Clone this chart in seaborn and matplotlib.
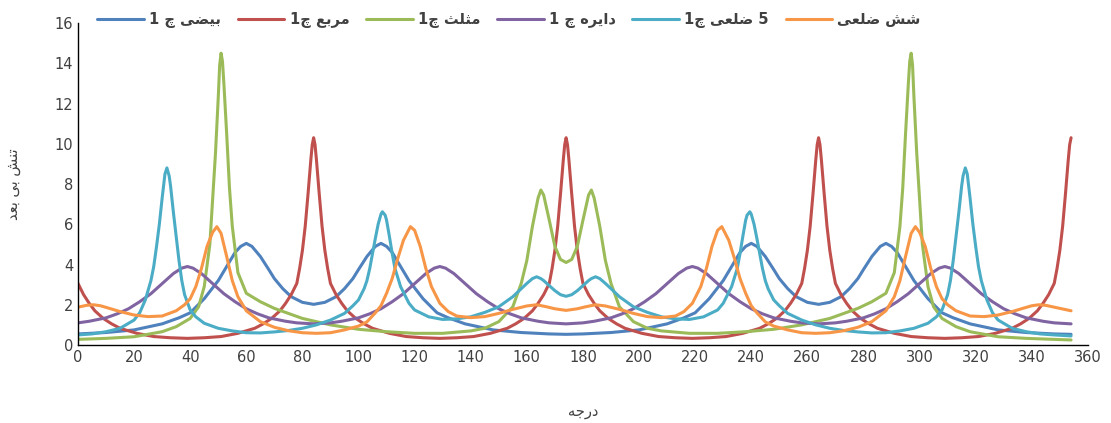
import pandas as pd
import matplotlib
matplotlib.use("Agg")
import matplotlib.pyplot as plt
import seaborn as sns

# Step 1: Data (angle in degrees, dimensionless stress)
ellipse_x = [0, 10, 20, 30, 36, 40, 45, 50, 53, 56, 58, 60, 62, 65, 68, 70, 73, 76, 80, 84,
             88, 92, 95, 98, 100, 103, 106, 108, 110, 112, 115, 118, 123, 128, 132, 138, 148, 158, 168, 174,
             180, 190, 200, 210, 216, 220, 225, 230, 233, 236, 238, 240, 242, 245, 248, 250, 253, 256, 260, 264,
             268, 272, 275, 278, 280, 283, 286, 288, 290, 292, 295, 298, 303, 308, 312, 318, 328, 338, 348, 354]
ellipse_y = [0.55, 0.62, 0.75, 1.05, 1.35, 1.6, 2.3, 3.2, 3.9, 4.6, 4.9, 5.05, 4.9, 4.4, 3.75, 3.3, 2.8, 2.4, 2.12, 2.02,
             2.12, 2.4, 2.8, 3.3, 3.75, 4.4, 4.9, 5.05, 4.9, 4.6, 3.9, 3.2, 2.3, 1.6, 1.35, 1.05, 0.75, 0.62, 0.55, 0.53,
             0.55, 0.62, 0.75, 1.05, 1.35, 1.6, 2.3, 3.2, 3.9, 4.6, 4.9, 5.05, 4.9, 4.4, 3.75, 3.3, 2.8, 2.4, 2.12, 2.02,
             2.12, 2.4, 2.8, 3.3, 3.75, 4.4, 4.9, 5.05, 4.9, 4.6, 3.9, 3.2, 2.3, 1.6, 1.35, 1.05, 0.75, 0.62, 0.55, 0.53]

square_x = [0, 2, 4, 6, 9, 12, 15, 21, 27, 33, 39, 45, 51, 57, 63, 66, 69, 72, 74, 76, 78, 79, 80, 81, 82, 83, 83.5, 84,
            84.5, 85, 86, 87, 88, 89, 90, 92, 94, 96, 99, 102, 105, 111, 117, 123, 129, 135, 141, 147, 153, 156, 159, 162, 164, 166, 168, 169, 170, 171, 172, 173, 173.5, 174,
            174.5, 175, 176, 177, 178, 179, 180, 182, 184, 186, 189, 192, 195, 201, 207, 213, 219, 225, 231, 237, 243, 246, 249, 252, 254, 256, 258, 259, 260, 261, 262, 263, 263.5, 264,
            264.5, 265, 266, 267, 268, 269, 270, 272, 274, 276, 279, 282, 285, 291, 297, 303, 309, 315, 321, 327, 333, 336, 339, 342, 344, 346, 348, 349, 350, 351, 352, 353, 353.5, 354]
square_y = [3.06, 2.5, 2.07, 1.7, 1.32, 1.05, 0.83, 0.58, 0.42, 0.36, 0.33, 0.36, 0.42, 0.58, 0.83, 1.05, 1.32, 1.7, 2.07, 2.5, 3.06, 3.8, 4.7, 5.9, 7.5, 9.2, 9.95, 10.3,
            9.95, 9.2, 7.5, 5.9, 4.7, 3.8, 3.06, 2.5, 2.07, 1.7, 1.32, 1.05, 0.83, 0.58, 0.42, 0.36, 0.33, 0.36, 0.42, 0.58, 0.83, 1.05, 1.32, 1.7, 2.07, 2.5, 3.06, 3.8, 4.7, 5.9, 7.5, 9.2, 9.95, 10.3,
            9.95, 9.2, 7.5, 5.9, 4.7, 3.8, 3.06, 2.5, 2.07, 1.7, 1.32, 1.05, 0.83, 0.58, 0.42, 0.36, 0.33, 0.36, 0.42, 0.58, 0.83, 1.05, 1.32, 1.7, 2.07, 2.5, 3.06, 3.8, 4.7, 5.9, 7.5, 9.2, 9.95, 10.3,
            9.95, 9.2, 7.5, 5.9, 4.7, 3.8, 3.06, 2.5, 2.07, 1.7, 1.32, 1.05, 0.83, 0.58, 0.42, 0.36, 0.33, 0.36, 0.42, 0.58, 0.83, 1.05, 1.32, 1.7, 2.07, 2.5, 3.06, 3.8, 4.7, 5.9, 7.5, 9.2, 9.95, 10.3]

triangle_x = [0, 10, 20, 30, 35, 40, 43, 45, 47, 49, 50, 50.5, 51, 51.5, 52, 53, 54, 55, 57, 60, 65, 70, 80, 90, 100, 110, 120, 130,
              140, 145, 150, 155, 158, 160, 162, 164, 165, 166, 168, 170, 172, 174,
              176, 178, 180, 182, 183, 184, 186, 188, 190, 193, 198, 203, 208, 218, 228, 238, 248, 258, 268, 278,
              283, 288, 291, 293, 294, 295, 296, 296.5, 297, 297.5, 298, 299, 301, 303, 305, 308, 313, 318, 328, 338, 348, 354]
triangle_y = [0.28, 0.33, 0.41, 0.66, 0.91, 1.32, 1.9, 2.9, 5.0, 9.5, 12.3, 13.9, 14.5, 14.1, 13.0, 10.5, 7.8, 5.9, 3.6, 2.57, 2.15, 1.82, 1.32, 1.0, 0.78, 0.66, 0.58, 0.58,
              0.7, 0.83, 1.16, 1.9, 3.06, 4.2, 5.9, 7.3, 7.7, 7.45, 6.2, 4.9, 4.25, 4.1,
              4.25, 4.9, 6.2, 7.45, 7.7, 7.3, 5.9, 4.2, 3.06, 1.9, 1.16, 0.83, 0.7, 0.58, 0.58, 0.66, 0.78, 1.0, 1.32, 1.82,
              2.15, 2.57, 3.6, 5.9, 7.8, 10.5, 13.0, 14.1, 14.5, 13.9, 12.3, 9.5, 5.0, 2.9, 1.9, 1.32, 0.91, 0.66, 0.41, 0.33, 0.28, 0.25]

circle_x = [0, 4, 10, 14, 18, 22, 26, 30, 34, 37, 39, 41, 44, 48, 52, 56, 60, 64, 68, 74, 78, 84,
            90, 94, 100, 104, 108, 112, 116, 120, 124, 127, 129, 131, 134, 138, 142, 146, 150, 154, 158, 164, 168, 174,
            180, 184, 190, 194, 198, 202, 206, 210, 214, 217, 219, 221, 224, 228, 232, 236, 240, 244, 248, 254, 258, 264,
            270, 274, 280, 284, 288, 292, 296, 300, 304, 307, 309, 311, 314, 318, 322, 326, 330, 334, 338, 344, 348, 354]
circle_y = [1.1, 1.18, 1.35, 1.55, 1.8, 2.15, 2.55, 3.05, 3.55, 3.82, 3.9, 3.82, 3.55, 3.05, 2.55, 2.15, 1.8, 1.55, 1.35, 1.18, 1.1, 1.05,
            1.1, 1.18, 1.35, 1.55, 1.8, 2.15, 2.55, 3.05, 3.55, 3.82, 3.9, 3.82, 3.55, 3.05, 2.55, 2.15, 1.8, 1.55, 1.35, 1.18, 1.1, 1.05,
            1.1, 1.18, 1.35, 1.55, 1.8, 2.15, 2.55, 3.05, 3.55, 3.82, 3.9, 3.82, 3.55, 3.05, 2.55, 2.15, 1.8, 1.55, 1.35, 1.18, 1.1, 1.05,
            1.1, 1.18, 1.35, 1.55, 1.8, 2.15, 2.55, 3.05, 3.55, 3.82, 3.9, 3.82, 3.55, 3.05, 2.55, 2.15, 1.8, 1.55, 1.35, 1.18, 1.1, 1.05]

pentagon_x = [0, 5, 10, 15, 20, 22, 24, 26, 27, 28, 29, 30, 31, 31.7, 32.5, 33, 34, 35, 36, 37, 38, 40, 42, 45, 50, 55,
              60, 65, 70, 75, 80, 85, 90, 95, 98, 100, 102, 103, 104, 105, 106, 107, 108, 108.5, 109.5, 110, 111, 112, 113,
              115, 118, 120, 125, 130, 135, 140, 145, 150, 155, 158, 160, 162, 163.5, 165, 166, 168, 170, 172, 174,
              176, 178, 180, 182, 183, 184.5, 186, 188, 190, 193, 198, 203, 208, 213, 218, 223, 228, 230, 233, 235, 236,
              237, 238, 238.5, 239.5, 240, 241, 242, 243, 244, 245, 246, 248, 250, 253, 258, 263, 268, 273, 278, 283, 288,
              293, 298, 303, 306, 308, 310, 311, 312, 313, 314, 315, 315.5, 316.3, 317, 318, 319, 320, 321, 322, 324, 326,
              328, 333, 338, 343, 348, 354]
pentagon_y = [0.5, 0.55, 0.66, 0.83, 1.24, 1.6, 2.24, 3.2, 3.9, 4.9, 6.0, 7.3, 8.5, 8.8, 8.4, 7.9, 6.6, 5.4, 4.2, 3.2, 2.5, 1.74, 1.4, 1.08, 0.83, 0.7,
              0.61, 0.6, 0.65, 0.72, 0.83, 1.0, 1.24, 1.57, 1.95, 2.24, 2.8, 3.2, 3.8, 4.55, 5.3, 6.0, 6.5, 6.62, 6.45, 6.2, 5.4, 4.55, 3.8,
              2.9, 2.07, 1.74, 1.4, 1.27, 1.3, 1.4, 1.62, 1.9, 2.4, 2.8, 3.06, 3.3, 3.39, 3.3, 3.2, 2.95, 2.7, 2.5, 2.42,
              2.5, 2.7, 2.95, 3.2, 3.3, 3.39, 3.3, 3.06, 2.8, 2.4, 1.9, 1.62, 1.4, 1.3, 1.27, 1.4, 1.74, 2.07, 2.9, 3.8, 4.55,
              5.4, 6.2, 6.45, 6.62, 6.5, 6.0, 5.3, 4.55, 3.8, 3.2, 2.8, 2.24, 1.95, 1.57, 1.24, 1.0, 0.83, 0.72, 0.65, 0.6, 0.61,
              0.7, 0.83, 1.08, 1.4, 1.74, 2.5, 3.2, 4.2, 5.4, 6.6, 7.9, 8.4, 8.8, 8.5, 7.3, 6.0, 4.9, 3.9, 3.2, 2.24, 1.6,
              1.24, 0.83, 0.66, 0.55, 0.5, 0.45]

hexagon_x = [0, 3, 5.5, 8, 10, 15, 20, 25, 30, 35, 38, 40, 42, 44, 46, 48, 49.5, 51, 53, 55, 57, 60, 65, 70, 75, 80, 85,
             90, 95, 100, 103, 106, 108, 110, 112, 114, 116, 118.5, 120, 122, 124, 126, 129, 132, 135, 140, 145, 150, 155,
             160, 163.5, 167, 170, 174,
             178, 181, 184.5, 188, 193, 198, 203, 208, 213, 216, 219, 222, 224, 226, 228, 229.5, 232, 234, 236, 238, 240,
             242, 245, 248, 253, 258, 263, 268, 273, 278, 283, 288, 291, 293, 295, 297, 298.5, 300, 302, 304, 306, 308, 310,
             313, 318, 323, 328, 333, 338, 340, 342.5, 345, 348, 354]
hexagon_y = [1.88, 1.97, 2.0, 1.95, 1.87, 1.66, 1.49, 1.41, 1.44, 1.7, 2.0, 2.3, 2.9, 3.8, 4.9, 5.6, 5.88, 5.55, 4.4, 3.2, 2.4, 1.7, 1.16, 0.88, 0.71, 0.61, 0.58,
             0.61, 0.75, 0.94, 1.15, 1.6, 1.95, 2.57, 3.3, 4.3, 5.2, 5.88, 5.7, 4.9, 3.8, 2.9, 2.07, 1.66, 1.44, 1.36, 1.41, 1.57, 1.77,
             1.94, 2.0, 1.9, 1.8, 1.72,
             1.8, 1.9, 2.0, 1.94, 1.77, 1.57, 1.41, 1.36, 1.44, 1.66, 2.07, 2.9, 3.8, 4.9, 5.7, 5.88, 5.2, 4.3, 3.3, 2.57, 1.95,
             1.6, 1.15, 0.94, 0.75, 0.61, 0.58, 0.61, 0.71, 0.88, 1.16, 1.7, 2.4, 3.2, 4.4, 5.55, 5.88, 5.6, 4.9, 3.8, 2.9, 2.3, 2.0,
             1.7, 1.44, 1.41, 1.49, 1.66, 1.87, 1.95, 2.0, 1.97, 1.88, 1.7]

series_names = ["بیضی چ 1", "مربع چ1", "مثلث چ1", "دایره چ 1", "5 ضلعی چ1", "شش ضلعی"]
colors = ["#4F81BD", "#C0504D", "#9BBB59", "#8064A2", "#4BACC6", "#F79646"]
x_label = "درجه"
y_label = "تنش بی بعد"

# Step 2: Arabic-script shaping (matplotlib draws glyphs left to right, unjoined)
FORMS = {
    'ا': ('\uFE8D', '\uFE8E'),
    'ب': ('\uFE8F', '\uFE90', '\uFE91', '\uFE92'),
    'ت': ('\uFE95', '\uFE96', '\uFE97', '\uFE98'),
    'ث': ('\uFE99', '\uFE9A', '\uFE9B', '\uFE9C'),
    'ج': ('\uFE9D', '\uFE9E', '\uFE9F', '\uFEA0'),
    'چ': ('\uFB7A', '\uFB7B', '\uFB7C', '\uFB7D'),
    'د': ('\uFEA9', '\uFEAA'),
    'ر': ('\uFEAD', '\uFEAE'),
    'ش': ('\uFEB5', '\uFEB6', '\uFEB7', '\uFEB8'),
    'ض': ('\uFEBD', '\uFEBE', '\uFEBF', '\uFEC0'),
    'ع': ('\uFEC9', '\uFECA', '\uFECB', '\uFECC'),
    'ل': ('\uFEDD', '\uFEDE', '\uFEDF', '\uFEE0'),
    'م': ('\uFEE1', '\uFEE2', '\uFEE3', '\uFEE4'),
    'ن': ('\uFEE5', '\uFEE6', '\uFEE7', '\uFEE8'),
    'ه': ('\uFEE9', '\uFEEA', '\uFEEB', '\uFEEC'),
    'ی': ('\uFBFC', '\uFBFD', '\uFBFE', '\uFBFF'),
}


def rtl(text):
    out = []
    for i, c in enumerate(text):
        if c not in FORMS:
            out.append(c)
            continue
        f = FORMS[c]
        prev = text[i - 1] if i > 0 else ''
        nxt = text[i + 1] if i + 1 < len(text) else ''
        join_prev = prev in FORMS and len(FORMS[prev]) == 4
        join_next = nxt in FORMS and len(f) == 4
        if join_prev and join_next:
            out.append(f[3])
        elif join_prev:
            out.append(f[1])
        elif join_next:
            out.append(f[2])
        else:
            out.append(f[0])
    return ''.join(reversed(out))


# Step 3: Long table for seaborn
xs = [ellipse_x, square_x, triangle_x, circle_x, pentagon_x, hexagon_x]
ys = [ellipse_y, square_y, triangle_y, circle_y, pentagon_y, hexagon_y]
frames = []
for name, x, y in zip(series_names, xs, ys):
    frames.append(pd.DataFrame({"angle": x, "stress": y, "series": rtl(name)}))
df = pd.concat(frames, ignore_index=True)

# Step 4: Plot
sns.set_style("white")
plt.rcParams['font.family'] = ['DejaVu Sans']

fig = plt.figure(figsize=(11.11, 4.23), dpi=100)
ax = fig.add_axes([0.0702, 0.1844, 0.909, 0.7612])
sns.lineplot(data=df, x="angle", y="stress", hue="series", palette=colors,
             estimator=None, sort=False, linewidth=2.2, ax=ax)

ax.set_xlim(0, 360)
ax.set_ylim(0, 16)
ax.set_xticks(range(0, 361, 20))
ax.set_yticks(range(0, 17, 2))
ax.tick_params(axis='both', direction='in', length=5, width=1, colors='black',
               labelcolor='#404040', labelsize=10.5)
for side in ['top', 'right']:
    ax.spines[side].set_visible(False)
for side in ['left', 'bottom']:
    ax.spines[side].set_color('black')
    ax.spines[side].set_linewidth(1)

ax.set_xlabel(rtl(x_label), fontsize=10.5, color='#404040', labelpad=28)
ax.set_ylabel(rtl(y_label), fontsize=10.5, color='#404040', labelpad=24)

handles, labels = ax.get_legend_handles_labels()
for h in handles:
    h.set_linewidth(2.2)
leg = ax.legend(handles, labels, loc='center', bbox_to_anchor=(509 / 1111, 1 - 20 / 423),
                bbox_transform=fig.transFigure, ncol=6, frameon=False,
                prop={'size': 10.5, 'weight': 'bold'},
                handlelength=3.2, handletextpad=0.35, columnspacing=1.15)
for t in leg.get_texts():
    t.set_color('#404040')

plt.savefig("out.png", dpi=100)
